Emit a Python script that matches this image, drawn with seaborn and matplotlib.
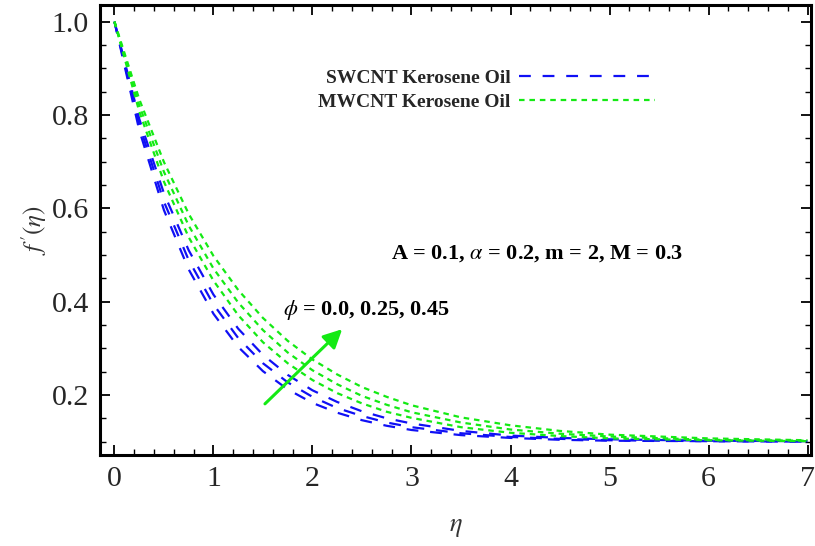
import numpy as np
import pandas as pd
import matplotlib
matplotlib.use("Agg")
import matplotlib.pyplot as plt
import seaborn as sns
from matplotlib.lines import Line2D
from matplotlib.ticker import MultipleLocator

# ---- data ----
eta = [0, 0.25, 0.5, 0.75, 1.0, 1.25, 1.5, 1.75, 2.0, 2.25, 2.5, 2.75, 3.0,
       3.5, 4.0, 4.5, 5.0, 6.0, 7.0]
phi_values = ["0.0", "0.25", "0.45"]

swcnt_phi0 = [1.0, 0.768, 0.596, 0.469, 0.374, 0.303, 0.251, 0.212, 0.183, 0.162,
              0.146, 0.134, 0.125, 0.114, 0.108, 0.104, 0.102, 0.101, 0.100]
swcnt_phi1 = [1.0, 0.780, 0.614, 0.489, 0.394, 0.322, 0.268, 0.227, 0.196, 0.172,
              0.155, 0.141, 0.131, 0.118, 0.110, 0.106, 0.103, 0.101, 0.100]
swcnt_phi2 = [1.0, 0.792, 0.632, 0.510, 0.415, 0.342, 0.286, 0.243, 0.210, 0.185,
              0.165, 0.150, 0.139, 0.123, 0.113, 0.108, 0.105, 0.102, 0.101]
mwcnt_phi0 = [1.0, 0.808, 0.657, 0.538, 0.445, 0.371, 0.313, 0.268, 0.232, 0.204,
              0.182, 0.164, 0.151, 0.131, 0.119, 0.112, 0.107, 0.103, 0.101]
mwcnt_phi1 = [1.0, 0.821, 0.678, 0.563, 0.471, 0.398, 0.339, 0.291, 0.253, 0.223,
              0.198, 0.179, 0.163, 0.141, 0.126, 0.117, 0.111, 0.104, 0.102]
mwcnt_phi2 = [1.0, 0.834, 0.699, 0.588, 0.498, 0.425, 0.365, 0.316, 0.276, 0.244,
              0.217, 0.196, 0.178, 0.152, 0.135, 0.123, 0.115, 0.107, 0.103]

series_labels = ["SWCNT Kerosene Oil", "MWCNT Kerosene Oil"]
x_ticks = [0, 1, 2, 3, 4, 5, 6, 7]
y_ticks = [0.2, 0.4, 0.6, 0.8, 1.0]

# ---- style ----
sns.set_style("ticks")
plt.rcParams["font.family"] = ["Liberation Serif", "DejaVu Serif"]
plt.rcParams["mathtext.fontset"] = "stix"
plt.rcParams["lines.scale_dashes"] = False

BLUE = "#1010f5"
GREEN = "#14ea14"
blue_ls = (0, (8.5, 8.5))
green_ls = (0, (4.0, 3.5))

fig = plt.figure(figsize=(8.15, 5.46), dpi=100)
ax = fig.add_axes([100 / 815, 1 - 455 / 546, 711 / 815, 450 / 546])

frames = []
for vals in [swcnt_phi0, swcnt_phi1, swcnt_phi2]:
    frames.append((pd.DataFrame({"eta": eta, "f": vals}), BLUE, blue_ls))
for vals in [mwcnt_phi0, mwcnt_phi1, mwcnt_phi2]:
    frames.append((pd.DataFrame({"eta": eta, "f": vals}), GREEN, green_ls))

for df, col, ls in frames:
    sns.lineplot(data=df, x="eta", y="f", ax=ax, color=col, linestyle=ls,
                 linewidth=1.6, sort=False, legend=False)

ax.set_xlim(-0.146, 7.035)
ax.set_ylim(0.0714, 1.0357)

ax.set_xticks(x_ticks)
ax.set_yticks(y_ticks)
ax.set_yticklabels([f"{v:.1f}" for v in y_ticks])
ax.xaxis.set_minor_locator(MultipleLocator(0.2))
ax.yaxis.set_minor_locator(MultipleLocator(0.05))
ax.tick_params(which="both", direction="in", top=True, right=True,
               labeltop=False, labelright=False, color="black")
ax.tick_params(which="major", length=7, width=1.3, labelsize=21.5, pad=8)
ax.tick_params(which="minor", length=4, width=1.0)
for sp in ax.spines.values():
    sp.set_linewidth(2.2)
    sp.set_color("black")

ax.set_xlabel(r"$\eta$", fontsize=19, color="#333333", labelpad=18)
ax.set_ylabel(r"$f\,'(\eta)$", fontsize=18, color="#333333", labelpad=2)

# legend (text left of the line sample)
handles = [Line2D([], [], color=BLUE, linestyle=blue_ls, linewidth=1.6),
           Line2D([], [], color=GREEN, linestyle=green_ls, linewidth=1.6)]
leg = ax.legend(handles, series_labels, loc="center",
                bbox_to_anchor=(0.544, 0.811), frameon=False, markerfirst=False,
                handlelength=7.0, handletextpad=0.45, labelspacing=0.3,
                prop={"family": "Liberation Serif", "weight": "bold", "size": 14})

ax.text(2.79, 0.504, r"A = 0.1, $\alpha$ = 0.2, m = 2, M = 0.3",
        fontsize=16, fontweight="bold", ha="left", va="center", color="black")
ax.text(1.70, 0.382, r"$\phi$ = " + ", ".join(phi_values),
        fontsize=16, fontweight="bold", ha="left", va="center", color="black")

ax.annotate("", xy=(2.30, 0.341), xytext=(1.52, 0.181),
            arrowprops=dict(arrowstyle="-|>", color=GREEN, lw=2.2,
                            mutation_scale=28, shrinkA=0, shrinkB=0))

fig.savefig("out.png", dpi=100)
